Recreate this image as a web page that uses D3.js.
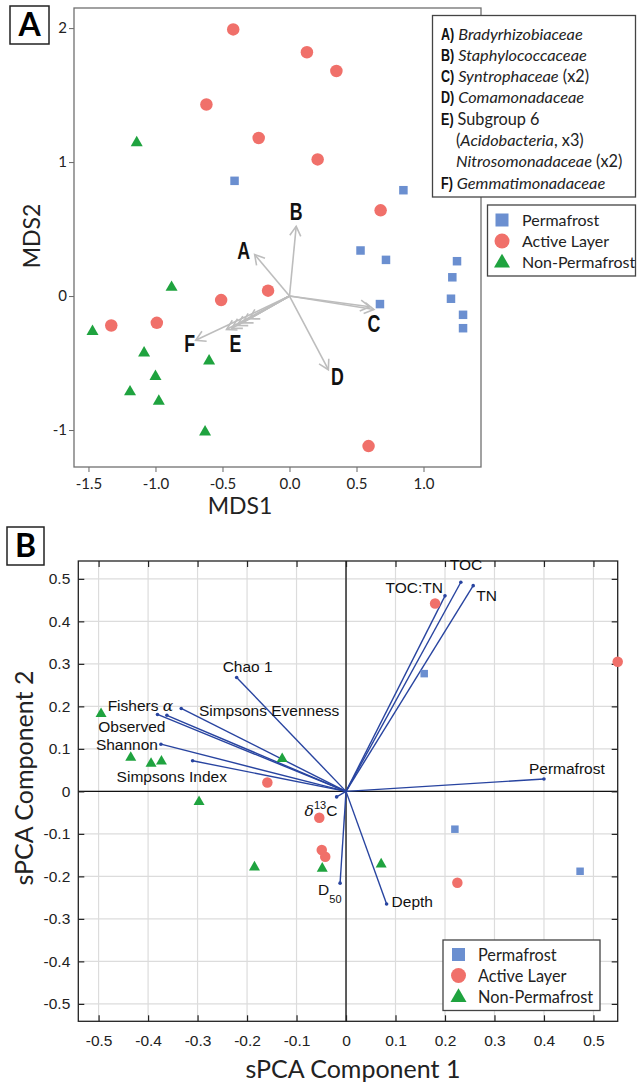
<!DOCTYPE html>
<html><head><meta charset="utf-8">
<script src="https://cdn.jsdelivr.net/npm/d3@7"></script>
<style>body{margin:0;background:#fff}svg{display:block}</style>
</head><body>
<svg id="c" width="641" height="1084"></svg>
<script>
// ---------- Panel A data (NMDS) ----------
const mdsPermafrost = [[-0.41,0.86],[0.85,0.79],[0.53,0.34],[0.72,0.27],[0.675,-0.06],[1.25,0.26],[1.215,0.14],[1.205,-0.02],[1.295,-0.14],[1.295,-0.24]];
const mdsActive = [[-0.42,1.99],[0.13,1.82],[0.35,1.68],[-0.62,1.43],[-0.23,1.18],[0.21,1.02],[0.68,0.64],[-0.16,0.04],[-0.51,-0.03],[-0.99,-0.20],[-1.33,-0.22],[0.59,-1.12]];
const mdsNonPermafrost = [[-1.14,1.15],[-0.88,0.07],[-1.47,-0.26],[-1.085,-0.42],[-0.60,-0.48],[-1.00,-0.595],[-1.19,-0.71],[-0.975,-0.78],[-0.63,-1.01]];
const taxaArrows = [
  {key:"A", tip:[-0.26,0.31]},
  {key:"B", tip:[0.05,0.52]},
  {key:"C", tip:[0.63,-0.10]},
  {key:"C", tip:[0.60,-0.08]},
  {key:"D", tip:[0.29,-0.55]},
  {key:"E", tip:[-0.47,-0.25]},
  {key:"E", tip:[-0.43,-0.24]},
  {key:"E", tip:[-0.39,-0.22]},
  {key:"E", tip:[-0.35,-0.20]},
  {key:"E", tip:[-0.30,-0.17]},
  {key:"F", tip:[-0.70,-0.33]}
];
const mdsXTicks = [-1.5,-1.0,-0.5,0.0,0.5,1.0];
const mdsYTicks = [-1,0,1,2];
const taxaLegend = [
  [["A)","b"],["Bradyrhizobiaceae","i"]],
  [["B)","b"],["Staphylococcaceae","i"]],
  [["C)","b"],["Syntrophaceae","i"],[" (x2)","n"]],
  [["D)","b"],["Comamonadaceae","i"]],
  [["E)","b"],["Subgroup 6","n"]],
  [["(","n"],["Acidobacteria","i"],[", x3)","n"]],
  [["Nitrosomonadaceae","i"],[" (x2)","n"]],
  [["F)","b"],["Gemmatimonadaceae","i"]]
];
const groupNames = ["Permafrost","Active Layer","Non-Permafrost"];

// ---------- Panel B data (sPCA) ----------
const pcaPermafrost = [[0.158,0.277],[0.22,-0.089],[0.473,-0.188]];
const pcaActive = [[0.18,0.442],[0.549,0.305],[-0.159,0.021],[-0.054,-0.062],[-0.049,-0.138],[-0.042,-0.154],[0.225,-0.215]];
const pcaNonPermafrost = [[-0.495,0.184],[-0.435,0.081],[-0.394,0.067],[-0.373,0.072],[-0.129,0.078],[-0.297,-0.023],[-0.185,-0.177],[-0.048,-0.18],[0.071,-0.17]];
const loadingNames = ["TOC:TN","TOC","TN","Permafrost","Chao 1","Fishers α","Observed","Simpsons Evenness","Shannon","Simpsons Index","δ13C","D50","Depth"];
const loadingX = [0.20,0.232,0.257,0.40,-0.221,-0.333,-0.381,-0.362,-0.374,-0.31,-0.019,-0.012,0.082];
const loadingY = [0.46,0.492,0.484,0.029,0.268,0.195,0.181,0.179,0.111,0.072,-0.013,-0.216,-0.265];
const pcaTicks = [-0.5,-0.4,-0.3,-0.2,-0.1,0,0.1,0.2,0.3,0.4,0.5];

// ---------- styles ----------
const colPerm = "#6b8fd0", colAct = "#f0706a", colNon = "#1fa33f";
const myriad = "Lato, 'Open Sans', sans-serif";
const arial = "'Liberation Sans', Arial, sans-serif";

const svg = d3.select("#c");

function marker(g, type, cx, cy, s, col){
  if(type==="sq"){
    g.append("rect").attr("x",cx-s/2).attr("y",cy-s/2).attr("width",s).attr("height",s).attr("fill",col);
  } else if(type==="ci"){
    g.append("circle").attr("cx",cx).attr("cy",cy).attr("r",s/2).attr("fill",col);
  } else {
    const h = s*0.87;
    g.append("path").attr("d",`M${cx},${cy-h*0.6}L${cx+s/2},${cy+h*0.4}L${cx-s/2},${cy+h*0.4}Z`).attr("fill",col);
  }
}
// condensed bold text via horizontal scaling
function condText(g, x, y, t, size, anchor){
  return g.append("text").attr("transform",`translate(${x},${y}) scale(0.74,1)`)
    .attr("text-anchor",anchor||"start").attr("font-family",arial).attr("font-weight","bold")
    .attr("font-size",size).attr("fill","#111").text(t);
}

function panelLabel(x,y,w,h,t){
  svg.append("rect").attr("x",x).attr("y",y).attr("width",w).attr("height",h).attr("fill","#fff").attr("stroke","#222").attr("stroke-width",1.5);
  svg.append("text").attr("x",x+w/2).attr("y",y+h/2+11).attr("text-anchor","middle")
    .attr("font-family",myriad).attr("font-weight","bold").attr("font-size",32).text(t);
}

// ================= Panel A =================
{
  const L=74, R=481, T=8, B=467;
  const x = d3.scaleLinear().domain([-1.608,1.429]).range([L,R]);
  const y = d3.scaleLinear().domain([-1.276,2.15]).range([B,T]);
  const g = svg.append("g");

  const ax = g.append("g").attr("transform",`translate(0,${B})`)
    .call(d3.axisBottom(x).tickValues(mdsXTicks).tickSize(5).tickFormat(d=>d.toFixed(1)));
  const ay = g.append("g").attr("transform",`translate(${L},0)`)
    .call(d3.axisLeft(y).tickValues(mdsYTicks).tickSize(5).tickPadding(2).tickFormat(d=>String(d)));
  [ax,ay].forEach(a=>{
    a.select(".domain").remove();
    a.selectAll("line").attr("stroke","#666");
    a.selectAll("text").attr("font-family",myriad).attr("font-size",15).attr("fill","#222");
  });
  ax.selectAll("text").attr("dy","0.95em");
  g.append("rect").attr("x",L).attr("y",T).attr("width",R-L).attr("height",B-T)
    .attr("fill","none").attr("stroke","#707070").attr("stroke-width",1.3);

  g.append("text").attr("x",240).attr("y",514).attr("text-anchor","middle")
    .attr("font-family",myriad).attr("font-size",23).attr("fill","#222").text("MDS1");
  g.append("text").attr("transform","translate(40,236) rotate(-90)").attr("text-anchor","middle")
    .attr("font-family",myriad).attr("font-size",23).attr("fill","#222").text("MDS2");

  // arrows
  const ox = x(0), oy = y(0);
  const ag = g.append("g").attr("stroke","#bdbdbd").attr("stroke-width",1.6).attr("fill","none");
  taxaArrows.forEach(a=>{
    const tx = x(a.tip[0]), ty = y(a.tip[1]);
    ag.append("line").attr("x1",ox).attr("y1",oy).attr("x2",tx).attr("y2",ty);
    const ang = Math.atan2(ty-oy, tx-ox), hl = 11, ha = Math.PI/6;
    ag.append("path").attr("d",
      `M${tx-hl*Math.cos(ang-ha)},${ty-hl*Math.sin(ang-ha)}L${tx},${ty}L${tx-hl*Math.cos(ang+ha)},${ty-hl*Math.sin(ang+ha)}`);
  });
  const letterOffsets = {A:[-11,-4],B:[0,-14],C:[0,15],D:[9,7],E:[9,14],F:[-6,4]};
  const seen = {};
  taxaArrows.forEach(a=>{
    if(seen[a.key]) return; seen[a.key]=1;
    const o = letterOffsets[a.key];
    condText(g, x(a.tip[0])+o[0], y(a.tip[1])+o[1]+8, a.key, 24, "middle");
  });

  // points
  const pg = g.append("g");
  mdsPermafrost.forEach(d=>marker(pg,"sq",x(d[0]),y(d[1]),8.5,colPerm));
  mdsActive.forEach(d=>marker(pg,"ci",x(d[0]),y(d[1]),12.5,colAct));
  mdsNonPermafrost.forEach(d=>marker(pg,"tr",x(d[0]),y(d[1]),12,colNon));

  // taxa legend
  g.append("rect").attr("x",432.5).attr("y",15.5).attr("width",203).attr("height",181.5)
    .attr("fill","#fff").attr("stroke","#444").attr("stroke-width",1.3);
  taxaLegend.forEach((line,i)=>{
    const by = 39.5+i*21.3;
    let sx = 441;
    let segs = line;
    if(line[0][1]==="b"){
      const pt = condText(g, 441, by, line[0][0], 17, "start");
      sx = 441 + pt.node().getComputedTextLength()*0.74 + 4;
      segs = line.slice(1);
    } else sx = 456;
    const t = g.append("text").attr("x",sx).attr("y",by)
      .attr("font-family",myriad).attr("font-size",16.3).attr("fill","#222");
    segs.forEach(s=>{
      const sp = t.append("tspan").text(s[0]);
      if(s[1]==="i") sp.attr("font-style","italic");
    });
  });
  // group legend
  g.append("rect").attr("x",487.5).attr("y",205).attr("width",148).attr("height",71)
    .attr("fill","#fff").attr("stroke","#444").attr("stroke-width",1.3);
  const types = ["sq","ci","tr"], cols=[colPerm,colAct,colNon], sizes=[13,15,16];
  groupNames.forEach((n,i)=>{
    marker(g,types[i],502,220+i*21,sizes[i],cols[i]);
    g.append("text").attr("x",522).attr("y",226+i*21).attr("font-family",myriad)
      .attr("font-size",16).attr("fill","#222").text(n);
  });
  panelLabel(10,6,39,38,"A");
}

// ================= Panel B =================
{
  const L=78.3, R=617.7, T=561, B=1021.3;
  const x = d3.scaleLinear().domain([-0.541,0.549]).range([L,R]);
  const y = d3.scaleLinear().domain([-0.541,0.542]).range([B,T]);
  const g = svg.append("g");

  // grid
  const gg = g.append("g").attr("stroke","#dcdcdc").attr("stroke-width",1.2);
  pcaTicks.forEach(t=>{
    gg.append("line").attr("x1",x(t)).attr("x2",x(t)).attr("y1",T).attr("y2",B);
    gg.append("line").attr("y1",y(t)).attr("y2",y(t)).attr("x1",L).attr("x2",R);
  });
  // zero lines
  g.append("line").attr("x1",x(0)).attr("x2",x(0)).attr("y1",T).attr("y2",B).attr("stroke","#111").attr("stroke-width",1.3);
  g.append("line").attr("y1",y(0)).attr("y2",y(0)).attr("x1",L).attr("x2",R).attr("stroke","#111").attr("stroke-width",1.3);

  const fmt = d=> d===0 ? "0" : d.toFixed(1);
  const ax = g.append("g").attr("transform",`translate(0,${B})`)
    .call(d3.axisBottom(x).tickValues(pcaTicks).tickSize(-6).tickPadding(14).tickFormat(fmt));
  const ay = g.append("g").attr("transform",`translate(${L},0)`)
    .call(d3.axisLeft(y).tickValues(pcaTicks).tickSize(-6).tickPadding(8).tickFormat(fmt));
  const at = g.append("g").attr("transform",`translate(0,${T})`)
    .call(d3.axisTop(x).tickValues(pcaTicks).tickSize(-6).tickFormat(""));
  const ar = g.append("g").attr("transform",`translate(${R},0)`)
    .call(d3.axisRight(y).tickValues(pcaTicks).tickSize(-6).tickFormat(""));
  [ax,ay,at,ar].forEach(a=>{
    a.select(".domain").remove();
    a.selectAll("line").attr("stroke","#222").attr("stroke-width",1.2);
    a.selectAll("text").attr("font-family",arial).attr("font-size",15.5).attr("fill","#222");
  });
  g.append("rect").attr("x",L).attr("y",T).attr("width",R-L).attr("height",B-T)
    .attr("fill","none").attr("stroke","#222").attr("stroke-width",1.3);

  g.append("text").attr("x",353).attr("y",1078).attr("text-anchor","middle")
    .attr("font-family",myriad).attr("font-size",25).attr("fill","#222").text("sPCA Component 1");
  g.append("text").attr("transform","translate(33,778) rotate(-90)").attr("text-anchor","middle")
    .attr("font-family",myriad).attr("font-size",25).attr("fill","#222").text("sPCA Component 2");

  // loading vectors
  const ox=x(0), oy=y(0);
  const vg = g.append("g");
  loadingNames.forEach((n,i)=>{
    vg.append("line").attr("x1",ox).attr("y1",oy).attr("x2",x(loadingX[i])).attr("y2",y(loadingY[i]))
      .attr("stroke","#2844a0").attr("stroke-width",1.4);
    vg.append("circle").attr("cx",x(loadingX[i])).attr("cy",y(loadingY[i])).attr("r",1.8).attr("fill","#2844a0");
  });

  // points
  const pg = g.append("g");
  pcaPermafrost.forEach(d=>marker(pg,"sq",x(d[0]),y(d[1]),7.5,colPerm));
  pcaActive.forEach(d=>marker(pg,"ci",x(d[0]),y(d[1]),10.5,colAct));
  pcaNonPermafrost.forEach(d=>marker(pg,"tr",x(d[0]),y(d[1]),11,colNon));

  // vector labels (offset from vector tip, px)
  const labOff = {
    "TOC:TN":[-2,-3,"end"], "TOC":[-11,-12,"start"], "TN":[3,15,"start"], "Permafrost":[-15,-5,"start"],
    "Chao 1":[-14,-5,"start"], "Fishers α":[-8,3,"end"], "Observed":[8,18,"end"], "Simpsons Evenness":[32,1,"start"],
    "Shannon":[-3,6,"end"], "Simpsons Index":[-76,21,"start"]
  };
  loadingNames.forEach((n,i)=>{
    const o = labOff[n]; if(!o) return;
    const t = g.append("text").attr("x",x(loadingX[i])+o[0]).attr("y",y(loadingY[i])+o[1])
      .attr("text-anchor",o[2]).attr("font-family",arial).attr("font-size",15.5).attr("fill","#111");
    if(n==="Fishers α"){
      t.append("tspan").text("Fishers ");
      t.append("tspan").attr("font-family","'DejaVu Serif', serif").attr("font-style","italic").text("α");
    } else t.text(n);
  });
  // δ13C
  {
    const i = loadingNames.indexOf("δ13C");
    const t = g.append("text").attr("x",x(loadingX[i])-32).attr("y",y(loadingY[i])+19)
      .attr("font-family",arial).attr("font-size",15.5).attr("fill","#111");
    t.append("tspan").attr("font-family","'DejaVu Serif', serif").attr("font-style","italic").text("δ");
    t.append("tspan").attr("font-size",11).attr("dy",-7).text("13");
    t.append("tspan").attr("dy",7).text("C");
  }
  // D50
  {
    const i = loadingNames.indexOf("D50");
    const t = g.append("text").attr("x",x(loadingX[i])-22).attr("y",y(loadingY[i])+12)
      .attr("font-family",arial).attr("font-size",15.5).attr("fill","#111");
    t.append("tspan").text("D");
    t.append("tspan").attr("font-size",11).attr("dy",8).text("50");
  }
  // Depth
  {
    const i = loadingNames.indexOf("Depth");
    g.append("text").attr("x",x(loadingX[i])+5).attr("y",y(loadingY[i])+3)
      .attr("font-family",arial).attr("font-size",15.5).attr("fill","#111").text("Depth");
  }

  // legend
  g.append("rect").attr("x",443).attr("y",940).attr("width",157).attr("height",70.5)
    .attr("fill","#fff").attr("stroke","#444").attr("stroke-width",1.3);
  const types = ["sq","ci","tr"], cols=[colPerm,colAct,colNon], sizes=[13,15,16];
  groupNames.forEach((n,i)=>{
    marker(g,types[i],458.5,954.5+i*21,sizes[i],cols[i]);
    g.append("text").attr("x",478).attr("y",960.5+i*21).attr("font-family",myriad)
      .attr("font-size",16.3).attr("fill","#222").text(n);
  });
  panelLabel(7,527,37,38,"B");
}
</script>
</body></html>
